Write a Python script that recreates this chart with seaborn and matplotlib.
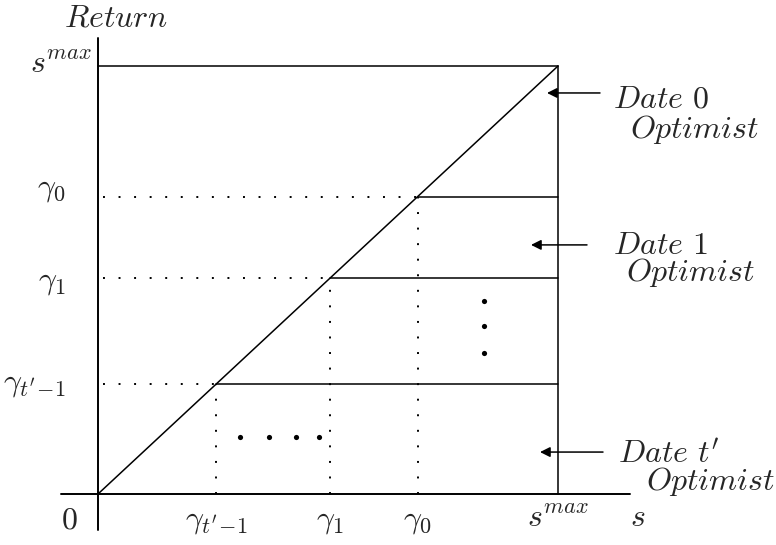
import matplotlib
matplotlib.use("Agg")
import matplotlib.pyplot as plt
import seaborn as sns
import pandas as pd

# values (s and Return share one scale, s_max = 1)
s_max = 1.0
gammas = [0.695, 0.505, 0.257]
gamma_labels = [r"$\gamma_0$", r"$\gamma_1$", r"$\gamma_{t'\!-\!1}$"]
dots_h_x = [0.309, 0.372, 0.430, 0.480]
dots_h_y = [0.133, 0.133, 0.133, 0.133]
dots_v_x = [0.839, 0.839, 0.839]
dots_v_y = [0.451, 0.393, 0.329]
date_labels = [r"$Date\ 0$", r"$Date\ 1$", r"$Date\ t'$"]
date_arrow_y = [0.937, 0.582, 0.098]

sns.set_style("white")
plt.rcParams["mathtext.fontset"] = "cm"
FS = 23


def X(px):
    return (px - 98) / 460


def Y(py):
    return (494 - py) / 428


fig = plt.figure(figsize=(7.76, 5.45), dpi=100)
ax = fig.add_axes([0, 0, 1, 1])
ax.set_xlim(X(0), X(776))
ax.set_ylim(Y(545), Y(0))
ax.axis("off")

# axes
ax.plot([X(61), X(630)], [0, 0], color="black", lw=1.4)
ax.plot([0, 0], [Y(530), Y(38)], color="black", lw=1.4)

# 45-degree line
diag = pd.DataFrame({"s": [0, s_max], "ret": [0, s_max]})
sns.lineplot(data=diag, x="s", y="ret", ax=ax, color="black", lw=1.1)

# s_max box edges
ax.plot([0, s_max], [s_max, s_max], color="black", lw=1.1)
ax.plot([s_max, s_max], [0, s_max], color="black", lw=1.1)

dot_style = dict(color="black", lw=1.4, linestyle=(0, (1, 7)))
for g in gammas:
    ax.plot([g, s_max], [g, g], color="black", lw=1.1)
    ax.plot([0.01, g], [g, g], **dot_style)
    ax.plot([g, g], [0, g], **dot_style)

# ellipsis dots
sns.scatterplot(x=dots_h_x, y=dots_h_y, ax=ax, color="black", s=14, linewidth=0)
sns.scatterplot(x=dots_v_x, y=dots_v_y, ax=ax, color="black", s=14, linewidth=0)

# tick-style labels
left_offsets = [8, -4, 1]
for g, lab, off in zip(gammas, gamma_labels, left_offsets):
    ax.text(X(66), g + off / 428, lab, fontsize=FS, ha="right", va="center")
ax.text(X(92), Y(64), r"$s^{max}$", fontsize=FS, ha="right", va="center")
ax.text(X(116), Y(18), r"$Return$", fontsize=FS, ha="center", va="center")

for g, lab in zip(gammas, gamma_labels):
    ax.text(g, Y(520), lab, fontsize=FS, ha="center", va="center")
ax.text(X(69), Y(520), r"$0$", fontsize=FS, ha="center", va="center")
ax.text(s_max, Y(518), r"$s^{max}$", fontsize=FS, ha="center", va="center")
ax.text(X(638), Y(518), r"$s$", fontsize=FS, ha="center", va="center")

# date annotations
arrow_tails = [X(600), X(587), X(603)]
arrow_tips = [X(547), X(531), X(540)]
date_pos = [(613, 107), (613, 254), (618, 463)]
opt_pos = [(630, 138), (626, 281), (646, 490)]
for lab, ay, xt, xh, dp, op in zip(date_labels, date_arrow_y, arrow_tails,
                                   arrow_tips, date_pos, opt_pos):
    ax.annotate("", xy=(xh, ay), xytext=(xt, ay),
                arrowprops=dict(arrowstyle="-|>", color="black", lw=1.1,
                                mutation_scale=15, shrinkA=0, shrinkB=0))
    ax.text(X(dp[0]), Y(dp[1]), lab, fontsize=FS, ha="left", va="baseline")
    ax.text(X(op[0]), Y(op[1]), r"$Optimist$", fontsize=FS, ha="left",
            va="baseline")

fig.savefig("out.png", dpi=100)
